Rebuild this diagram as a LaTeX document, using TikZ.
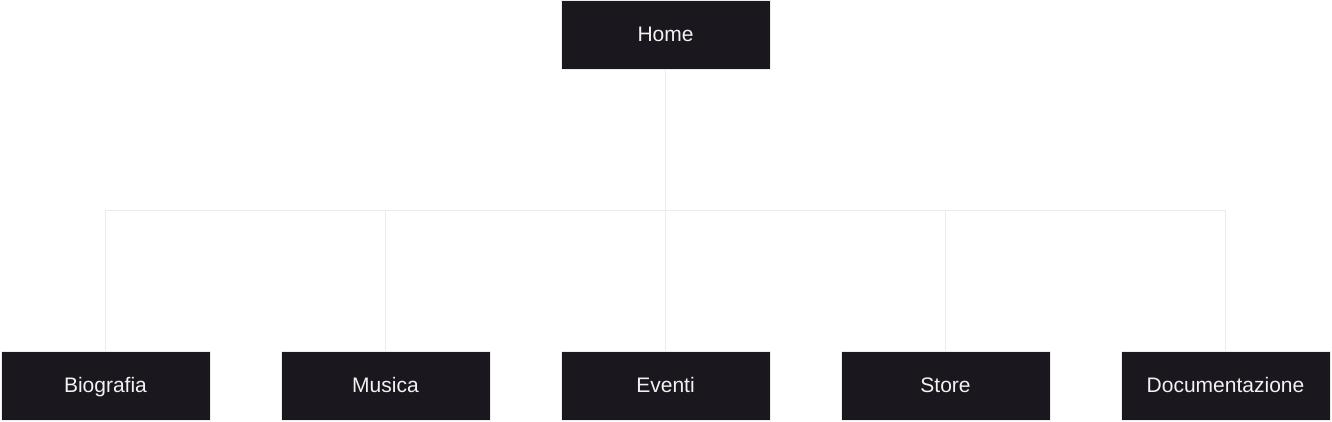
\documentclass[tikz,border=0pt]{standalone}
\usepackage{fontspec}
\setmainfont{Liberation Sans}
\usepackage{xcolor}
\usepackage{tikz}
\usetikzlibrary{positioning,calc}
\definecolor{boxdark}{HTML}{1A171F}
\definecolor{linegray}{HTML}{EBEBEB}
\definecolor{textwhite}{HTML}{F2F2F2}

\begin{document}
\begin{tikzpicture}[x=1pt,y=-1pt,font=\fontsize{21}{24}\selectfont,node distance=70pt,
   page/.style={draw=linegray,line width=1pt,fill=boxdark,text=textwhite,
               minimum width=209pt,minimum height=69pt,inner sep=0pt,
               text height=17pt,text depth=4pt},
   link/.style={draw=linegray,line width=1.3pt}]
  \useasboundingbox (0,0) rectangle (1332,422);
  \node[page] (bio) at (105.5,385.5) {Biografia};
  \node[page,right=of bio] (mus) {Musica};
  \node[page,right=of mus] (eve) {Eventi};
  \node[page,right=of eve] (sto) {Store};
  \node[page,right=of sto] (doc) {Documentazione};
  \node[page,above=280pt of eve] (home) {Home};
  \coordinate (bar) at ($(home)!0.5!(eve)$);
  \draw[link] (home) -- (bar);
  \foreach \child in {bio,mus,eve,sto,doc}
    \draw[link] (bar) -| (\child);
\end{tikzpicture}
\end{document}
